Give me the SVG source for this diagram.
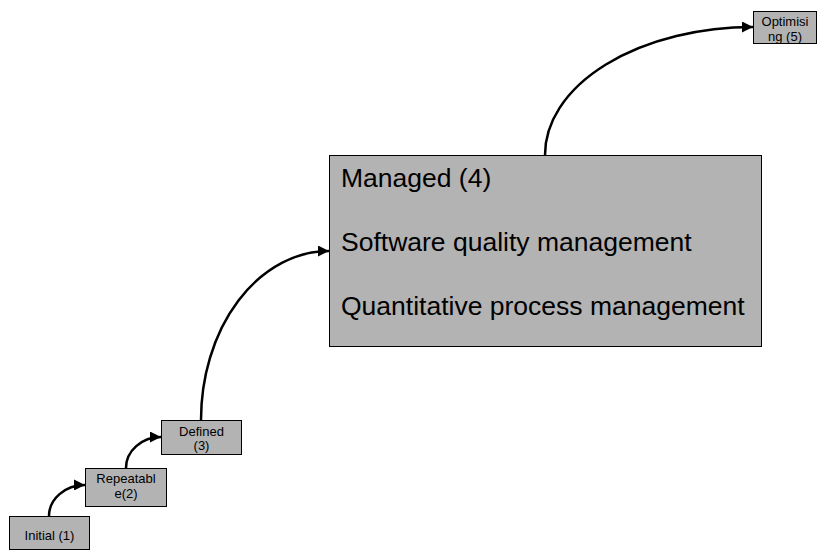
<svg xmlns="http://www.w3.org/2000/svg" width="830" height="550" viewBox="0 0 830 550">
<style>
.box{fill:#b3b3b3;stroke:#000;stroke-width:1}
.s{font-family:"Liberation Sans",Arial,sans-serif;font-size:13px;fill:#000;text-anchor:middle}
.l{font-family:"Liberation Sans",Arial,sans-serif;font-size:26.5px;fill:#000}
.c{fill:none;stroke:#000;stroke-width:2.5}
</style>
<defs>
<marker id="ah" markerUnits="userSpaceOnUse" markerWidth="11" markerHeight="11" refX="10" refY="5" orient="auto" viewBox="0 0 10 10">
<path d="M0,0 L10,5 L0,10 z" fill="#000"/>
</marker>
</defs>
<rect width="830" height="550" fill="#fff"/>
<g id="connectors">
<path class="c" d="M49 516 A36 31 0 0 1 85 485" marker-end="url(#ah)"/>
<path class="c" d="M126 468 A35 31 0 0 1 161 437" marker-end="url(#ah)"/>
<path class="c" d="M201 420 A128 169 0 0 1 329 251" marker-end="url(#ah)"/>
<path class="c" d="M545 155 A208 128 0 0 1 753 27" marker-end="url(#ah)"/>
</g>
<g id="initial">
<rect class="box" x="9.5" y="516.5" width="80" height="33"/>
<text class="s" x="49.5" y="540">Initial (1)</text>
</g>
<g id="repeatable">
<rect class="box" x="85.5" y="468.5" width="81" height="38"/>
<text class="s" x="126" y="483">Repeatabl</text>
<text class="s" x="126" y="498">e(2)</text>
</g>
<g id="defined">
<rect class="box" x="161.5" y="420.5" width="80" height="34"/>
<text class="s" x="201.5" y="436">Defined</text>
<text class="s" x="201.5" y="450">(3)</text>
</g>
<g id="managed">
<rect class="box" x="329.5" y="155.5" width="432" height="191"/>
<text class="l" x="341" y="187">Managed (4)</text>
<text class="l" x="341" y="251">Software quality management</text>
<text class="l" x="341" y="315">Quantitative process management</text>
</g>
<g id="optimising">
<rect class="box" x="753.5" y="11.5" width="63" height="32"/>
<text class="s" x="785" y="26">Optimisi</text>
<text class="s" x="785" y="41">ng (5)</text>
</g>
</svg>
